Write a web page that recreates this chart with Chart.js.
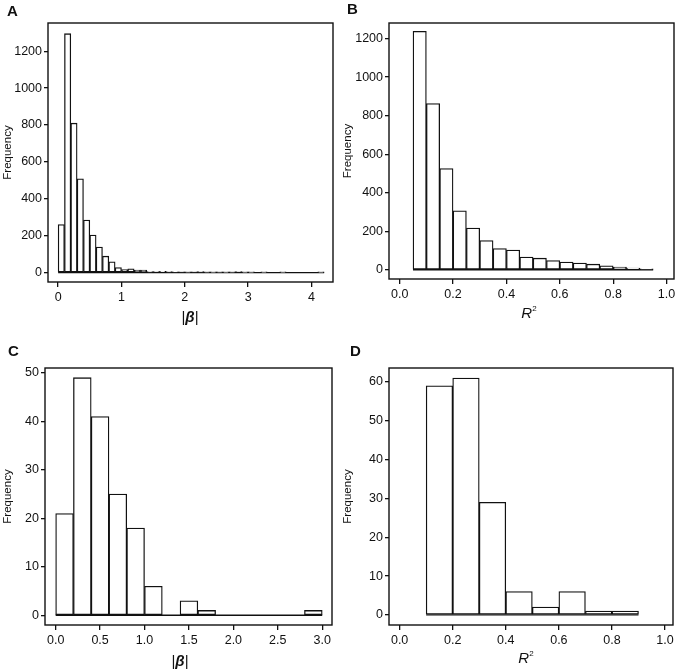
<!DOCTYPE html>
<html>
<head>
<meta charset="utf-8">
<script src="https://cdn.jsdelivr.net/npm/chart.js@4.4.1/dist/chart.umd.min.js"></script>
<style>
  body { margin: 0; background: #fff; font-family: "Liberation Sans", Arial, sans-serif; }
  #wrap { position: relative; width: 680px; height: 670px; }
  .panel { position: absolute; }
  .letter { position: absolute; font-weight: bold; font-size: 15px; line-height: 1; color: #111; }
  .xtitle { position: absolute; font-size: 15px; line-height: 1; transform: translate(-50%, -50%); color: #111; white-space: nowrap; }
  .xtitle sup { font-size: 8px; vertical-align: 7px; }
</style>
</head>
<body>
<div id="wrap">
  <canvas id="chartA" class="panel" width="340" height="330" style="left:0;top:0"></canvas>
  <canvas id="chartB" class="panel" width="340" height="330" style="left:340px;top:0"></canvas>
  <canvas id="chartC" class="panel" width="340" height="335" style="left:0;top:335px"></canvas>
  <canvas id="chartD" class="panel" width="340" height="335" style="left:340px;top:335px"></canvas>

  <div class="letter" style="left:7px;top:3px">A</div>
  <div class="letter" style="left:347px;top:1px">B</div>
  <div class="letter" style="left:8px;top:343px">C</div>
  <div class="letter" style="left:350px;top:343px">D</div>

  <div class="xtitle" style="left:190px;top:316px">|<b><i>β</i></b>|</div>
  <div class="xtitle" style="left:529px;top:312px"><i>R</i><sup>2</sup></div>
  <div class="xtitle" style="left:180px;top:660px">|<b><i>β</i></b>|</div>
  <div class="xtitle" style="left:526px;top:657px"><i>R</i><sup>2</sup></div>
</div>

<script>
// A: |beta| for all pairs, bins of 0.1 from 0 to 4.2
const binStartA = 0
const binWidthA = 0.1
const countsA = [260, 1295, 810, 508, 285, 203, 138, 89, 58, 27,
                 16, 20, 14, 14, 5, 6, 7, 5, 4, 3,
                 2, 3, 5, 2, 1, 2, 1, 2, 6, 1,
                 1, 0, 1, 0, 0, 1, 0, 0, 0, 0,
                 0, 1]
const xTicksA = [0, 1, 2, 3, 4]
const xTickLabelsA = ['0', '1', '2', '3', '4']
const yTicksA = [0, 200, 400, 600, 800, 1000, 1200]

// B: R^2 for all pairs, bins of 0.05 from 0.05 to 0.95
const binStartB = 0.05
const binWidthB = 0.05
const countsB = [1238, 863, 525, 306, 216, 152, 110, 102, 66, 60,
                 48, 40, 35, 29, 21, 14, 9, 5]
const xTicksB = [0, 0.2, 0.4, 0.6, 0.8, 1.0]
const xTickLabelsB = ['0.0', '0.2', '0.4', '0.6', '0.8', '1.0']
const yTicksB = [0, 200, 400, 600, 800, 1000, 1200]

// C: |beta| for the subset, bins of 0.2 from 0 to 3.0
const binStartC = 0
const binWidthC = 0.2
const countsC = [21, 49, 41, 25, 18, 6, 0, 3, 1, 0, 0, 0, 0, 0, 1]
const xTicksC = [0, 0.5, 1.0, 1.5, 2.0, 2.5, 3.0]
const xTickLabelsC = ['0.0', '0.5', '1.0', '1.5', '2.0', '2.5', '3.0']
const yTicksC = [0, 10, 20, 30, 40, 50]

// D: R^2 for the subset, bins of 0.1 from 0.1 to 0.9
const binStartD = 0.1
const binWidthD = 0.1
const countsD = [59, 61, 29, 6, 2, 6, 1, 1]
const xTicksD = [0, 0.2, 0.4, 0.6, 0.8, 1.0]
const xTickLabelsD = ['0.0', '0.2', '0.4', '0.6', '0.8', '1.0']
const yTicksD = [0, 10, 20, 30, 40, 50, 60]

const INK = '#111'
Chart.defaults.font.family = '"Liberation Sans", Arial, sans-serif'
Chart.defaults.color = INK

// box around the plot area, like the R frame
const framePlugin = {
  id: 'frame',
  afterDraw(chart) {
    const { ctx, chartArea: a } = chart
    ctx.save()
    ctx.strokeStyle = INK
    ctx.lineWidth = 1.4
    ctx.strokeRect(a.left, a.top, a.right - a.left, a.bottom - a.top)
    ctx.restore()
  }
}

function histogram(id, p) {
  const canvas = document.getElementById(id)
  const bars = p.counts.map((c, i) => ({ x: p.start + (i + 0.5) * p.width, y: c }))
  const end = p.start + p.counts.length * p.width

  return new Chart(canvas, {
    type: 'bar',
    data: {
      datasets: [
        {
          type: 'bar',
          data: bars,
          backgroundColor: '#fff',
          borderColor: INK,
          borderWidth: 1.3,
          borderSkipped: false,
          barPercentage: 1,
          categoryPercentage: 1
        },
        {
          type: 'line',
          data: [{ x: p.start, y: 0 }, { x: end, y: 0 }],
          borderColor: INK,
          borderWidth: 1.4,
          pointRadius: 0
        }
      ]
    },
    options: {
      responsive: false,
      animation: false,
      layout: {
        padding: { top: p.area.top, right: canvas.width - p.area.right, bottom: 0, left: 0 }
      },
      plugins: {
        legend: { display: false },
        tooltip: { enabled: false }
      },
      scales: {
        x: {
          type: 'linear',
          offset: false,
          min: p.xMin,
          max: p.xMax,
          afterBuildTicks: s => { s.ticks = p.xTicks.map(v => ({ value: v })) },
          afterFit: s => { s.height = canvas.height - p.area.bottom },
          border: { display: false },
          grid: { offset: false, drawOnChartArea: false, drawTicks: true, tickLength: 5, color: INK, lineWidth: 1.3 },
          ticks: {
            autoSkip: false,
            maxRotation: 0,
            padding: 3,
            font: { size: 12.5 },
            callback: (v, i) => p.xLabels[i]
          }
        },
        y: {
          min: p.yMin,
          max: p.yMax,
          afterBuildTicks: s => { s.ticks = p.yTicks.map(v => ({ value: v })) },
          afterFit: s => { s.width = p.area.left },
          border: { display: false },
          grid: { drawOnChartArea: false, drawTicks: true, tickLength: 4, color: INK, lineWidth: 1.3 },
          ticks: { autoSkip: false, padding: 2, font: { size: 12.5 }, callback: v => String(v) },
          title: {
            display: true,
            text: 'Frequency',
            font: { size: 11.5 },
            padding: { top: 1, bottom: 0 }
          }
        }
      }
    },
    plugins: [framePlugin]
  })
}

histogram('chartA', {
  start: binStartA, width: binWidthA, counts: countsA,
  xTicks: xTicksA, xLabels: xTickLabelsA, yTicks: yTicksA,
  xMin: -0.16, xMax: 4.34, yMin: -51, yMax: 1353,
  area: { left: 48, top: 23, right: 333, bottom: 282 }
})

histogram('chartB', {
  start: binStartB, width: binWidthB, counts: countsB,
  xTicks: xTicksB, xLabels: xTickLabelsB, yTicks: yTicksB,
  xMin: -0.04, xMax: 1.028, yMin: -48, yMax: 1281,
  area: { left: 49, top: 23, right: 334, bottom: 279 }
})

histogram('chartC', {
  start: binStartC, width: binWidthC, counts: countsC,
  xTicks: xTicksC, xLabels: xTickLabelsC, yTicks: yTicksC,
  xMin: -0.12, xMax: 3.11, yMin: -2.0, yMax: 51,
  area: { left: 45, top: 33, right: 332, bottom: 290 }
})

histogram('chartD', {
  start: binStartD, width: binWidthD, counts: countsD,
  xTicks: xTicksD, xLabels: xTickLabelsD, yTicks: yTicksD,
  xMin: -0.04, xMax: 1.03, yMin: -2.6, yMax: 63.6,
  area: { left: 49, top: 33, right: 333, bottom: 290 }
})
</script>
</body>
</html>
